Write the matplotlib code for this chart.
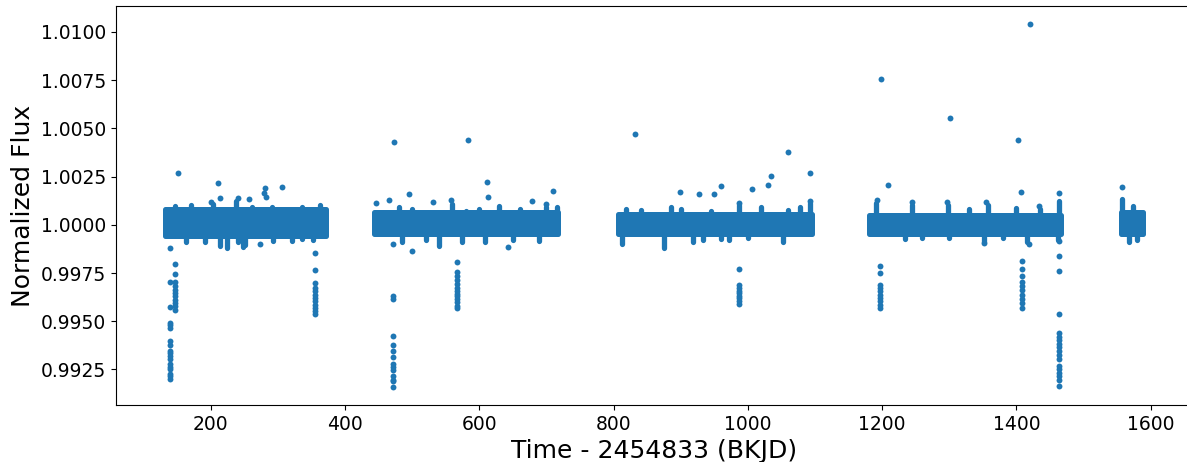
import matplotlib
matplotlib.use("Agg")
import matplotlib.pyplot as plt
from matplotlib.ticker import MultipleLocator, FormatStrFormatter

# ---- data ----
# observing segments (BKJD) and the envelope of the dense flux band
seg_start = [131.5, 443.0, 807.0, 1180.0, 1556.0]
seg_end = [371.5, 717.0, 1096.0, 1466.0, 1588.0]
band_hi = [1.00083, 1.00065, 1.00056, 1.00050, 1.00065]
band_lo = [0.99940, 0.99950, 0.99950, 0.99950, 0.99950]

# short excursions above the band (time, peak flux)
up_spike_t = [146.7, 171.0, 204.0, 238.0, 261.0, 291.0, 336.0, 363.0,
              480.0, 500.0, 559.7, 579.6, 600.0, 629.0, 660.0, 699.0, 716.0,
              818.0, 840.7, 885.5, 900.0, 945.0, 987.5, 1020.0, 1060.0, 1077.0, 1093.0,
              1191.5, 1243.7, 1298.5, 1330.0, 1357.0, 1400.0, 1435.0, 1462.7,
              1557.6, 1573.6]
up_spike_f = [1.00097, 1.00103, 1.00106, 1.00125, 1.00091, 1.00091, 1.00091, 1.00103,
              1.00091, 1.00080, 1.00108, 1.00074, 1.00080, 1.00097, 1.00080, 1.00094, 1.00090,
              1.00080, 1.00077, 1.00091, 1.00080, 1.00074, 1.00103, 1.00091, 1.00077, 1.00091, 1.00111,
              1.00114, 1.00100, 1.00100, 1.00080, 1.00100, 1.00085, 1.00080, 1.00125,
              1.00134, 1.00095]

# short excursions below the band (time, lowest flux)
lo_spike_t = [164.0, 191.5, 214.0, 224.0, 241.0, 248.7, 251.0, 293.5, 321.0, 336.0, 353.0,
              485.0, 520.0, 539.7, 574.6, 609.0, 650.0, 689.0,
              813.0, 875.5, 918.0, 933.0, 960.0, 972.0, 1000.0, 1052.0,
              1234.0, 1260.0, 1300.0, 1351.0, 1380.0, 1416.0, 1462.0,
              1567.0, 1580.0]
lo_spike_f = [0.99909, 0.99909, 0.99892, 0.99878, 0.99909, 0.99886, 0.99895, 0.99918, 0.99918, 0.99927, 0.99920,
              0.99909, 0.99920, 0.99892, 0.99909, 0.99909, 0.99920, 0.99918,
              0.99900, 0.99880, 0.99909, 0.99920, 0.99925, 0.99920, 0.99930, 0.99909,
              0.99927, 0.99930, 0.99930, 0.99909, 0.99930, 0.99909, 0.99920,
              0.99910, 0.99920]

# isolated outlying points
out_t = [151.6, 210.4, 214.0, 241.0, 257.0, 279.0, 281.0, 282.0, 306.0, 201.0, 273.5, 139.7,
         446.7, 465.0, 473.6, 583.0, 496.0, 611.0, 613.5, 709.9, 678.0, 699.0, 558.0, 530.7,
         471.0, 500.0, 643.0,
         831.8, 1060.0, 1035.0, 1030.0, 1006.0, 960.6, 950.0, 927.0, 899.0, 1092.0, 1092.0, 987.5,
         1192.0, 1198.5, 1208.0, 1244.0, 1297.0, 1300.5, 1354.6, 1402.0, 1406.0, 1419.4, 1434.0,
         1463.0, 1418.0, 1351.0,
         1557.6]
out_f = [1.00271, 1.00217, 1.00140, 1.00140, 1.00136, 1.00164, 1.00190, 1.00143, 1.00198, 1.00117, 0.99903, 0.99879,
         1.00112, 1.00129, 1.00429, 1.00440, 1.00162, 1.00221, 1.00143, 1.00176, 1.00121, 1.00107, 1.00126, 1.00117,
         0.99902, 0.99866, 0.99883,
         1.00471, 1.00376, 1.00255, 1.00207, 1.00185, 1.00202, 1.00162, 1.00162, 1.00171, 1.00269, 1.00123, 1.00112,
         1.00126, 1.00754, 1.00208, 1.00117, 1.00117, 1.00556, 1.00117, 1.00440, 1.00171, 1.01040, 1.00098,
         1.00164, 0.99902, 0.99905,
         1.00198]

# transit points: time of each in-transit column and its fluxes
dip_t = [139.7, 146.7, 356.0, 471.0, 566.6, 987.5, 1197.5, 1408.4, 1463.0]
dip_f = [
    [0.99576, 0.99491, 0.99479, 0.99466, 0.99400, 0.99379, 0.99345, 0.99333, 0.99319,
     0.99302, 0.99276, 0.99264, 0.99250, 0.99229, 0.99215, 0.99202, 0.99702],
    [0.99798, 0.99745, 0.99702, 0.99681, 0.99664, 0.99647, 0.99629, 0.99612, 0.99595,
     0.99577, 0.99557],
    [0.99853, 0.99767, 0.99698, 0.99672, 0.99655, 0.99638, 0.99621, 0.99604, 0.99586,
     0.99569, 0.99552, 0.99540],
    [0.99633, 0.99617, 0.99422, 0.99379, 0.99348, 0.99316, 0.99280, 0.99264, 0.99246,
     0.99215, 0.99198, 0.99189, 0.99160],
    [0.99807, 0.99753, 0.99733, 0.99715, 0.99695, 0.99672, 0.99655, 0.99643, 0.99629,
     0.99616, 0.99598, 0.99581, 0.99567],
    [0.99772, 0.99686, 0.99672, 0.99659, 0.99647, 0.99633, 0.99621, 0.99607, 0.99591],
    [0.99788, 0.99750, 0.99690, 0.99672, 0.99655, 0.99638, 0.99621, 0.99604, 0.99586, 0.99567],
    [0.99810, 0.99771, 0.99733, 0.99702, 0.99684, 0.99664, 0.99638, 0.99616, 0.99595, 0.99569],
    [0.99917, 0.99838, 0.99758, 0.99540, 0.99440, 0.99419, 0.99402, 0.99384, 0.99367,
     0.99345, 0.99327, 0.99305, 0.99267, 0.99250, 0.99233, 0.99215, 0.99198, 0.99163],
]

x_label = "Time - 2454833 (BKJD)"
y_label = "Normalized Flux"

# ---- drawing ----
color = "#1f77b4"
fig = plt.figure(figsize=(11.87, 4.62), dpi=100)
ax = fig.add_axes([0.0975, 0.1234, 0.9064, 0.8636])

for s, e, hi, lo in zip(seg_start, seg_end, band_hi, band_lo):
    ax.fill_between([s, e], [hi, hi], [lo, lo], facecolor=color,
                    edgecolor=color, linewidth=3.6, joinstyle="round")

lc1 = ax.vlines(up_spike_t, 1.0, up_spike_f, colors=color, linewidth=3.8)
lc1.set_capstyle("round")
lc2 = ax.vlines(lo_spike_t, 1.0, lo_spike_f, colors=color, linewidth=3.8)
lc2.set_capstyle("round")

ax.scatter(out_t, out_f, s=18, color=color, linewidths=0)
for t, fl in zip(dip_t, dip_f):
    ax.scatter([t] * len(fl), fl, s=18, color=color, linewidths=0)

all_t = seg_start + seg_end
all_f = [v for fl in dip_f for v in fl] + out_f
tmin, tmax = min(all_t), max(all_t)
fmin, fmax = min(all_f), max(all_f)
ax.set_xlim(tmin - 0.05 * (tmax - tmin), tmax + 0.05 * (tmax - tmin))
ax.set_ylim(fmin - 0.05 * (fmax - fmin), fmax + 0.05 * (fmax - fmin))

ax.xaxis.set_major_locator(MultipleLocator(200))
ax.yaxis.set_major_locator(MultipleLocator(0.0025))
ax.yaxis.set_major_formatter(FormatStrFormatter("%.4f"))
ax.tick_params(labelsize=13.5)
ax.set_xlabel(x_label, fontsize=18)
ax.set_ylabel(y_label, fontsize=18)

fig.savefig("out.png", dpi=100)
